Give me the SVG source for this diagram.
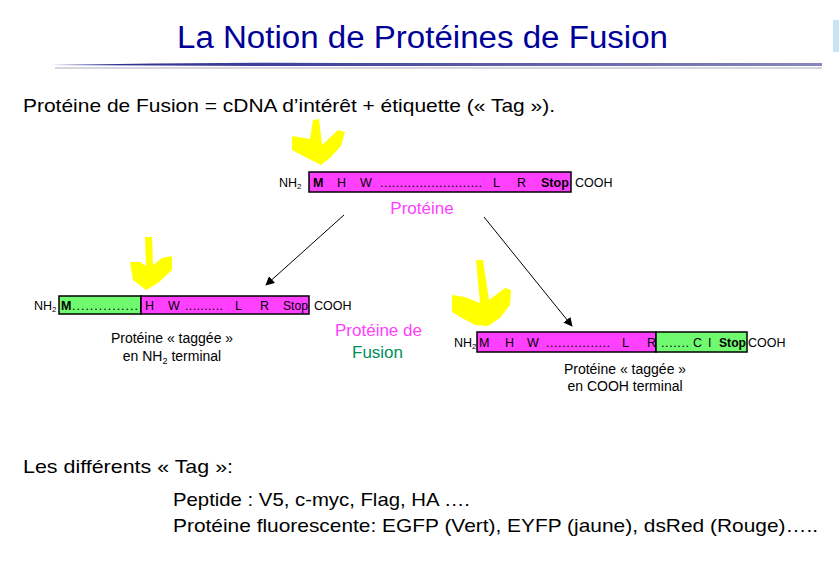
<svg xmlns="http://www.w3.org/2000/svg" width="839" height="563" viewBox="0 0 839 563">
<defs>
<style>
text{font-family:"Liberation Sans",Arial,sans-serif;fill:#000}
.b{font-size:12.5px}
.bb{font-size:12.5px;font-weight:bold}
.lbl{font-size:14px}
.big{font-size:19px}
.mag{fill:#ff40ff;font-size:17px}
.grn{fill:#00905a;font-size:17px}
.bar{stroke:#000;stroke-width:1.5}
.pm{fill:#ff40ff}
.pg{fill:#70fa70}
.ya{fill:#ffff00}
.con{stroke:#000;stroke-width:1;fill:none;marker-end:url(#ah)}
</style>
<marker id="ah" viewBox="0 0 10 10" refX="9" refY="5" markerWidth="9" markerHeight="9" markerUnits="userSpaceOnUse" orient="auto">
<path d="M0,0 L10,5 L0,10 z" fill="#000"/>
</marker>
<linearGradient id="lg1" x1="0" x2="1" y1="0" y2="0">
<stop offset="0" stop-color="#2a2a90"/>
<stop offset="0.4" stop-color="#4a4aa0"/>
<stop offset="1" stop-color="#8888bb"/>
</linearGradient>
</defs>
<rect width="839" height="563" fill="#fff"/>
<rect x="833" y="20" width="6" height="32" fill="#c8e2f6"/>

<g id="title">
<text x="177" y="48" style="font-size:31px;fill:#000099" textLength="491" lengthAdjust="spacingAndGlyphs">La Notion de Protéines de Fusion</text>
<path d="M50,65 Q200,62 345,63 L822,63 L822,66 L345,66 Q200,66 50,65 z" fill="url(#lg1)"/>
<line x1="55" y1="68" x2="822" y2="68" stroke="#c8c8d6" stroke-width="1.5"/>
</g>

<g id="intro">
<text x="23" y="112" class="big" textLength="532" lengthAdjust="spacingAndGlyphs">Protéine de Fusion = cDNA d’intérêt + étiquette (« Tag »).</text>
</g>

<g id="protein-top">
<path class="ya" d="M313,120 L319,119 L322,145 L338,130 L345,132 L341,146 L330,158 L321,165 L311,160 L292,150 L292,136 L310,139 z"/>
<text x="279" y="187" class="b">NH<tspan font-size="8" dy="2">2</tspan></text>
<rect x="309" y="172" width="262" height="20" class="bar pm"/>
<text x="313" y="187" class="bb">M</text>
<text x="337" y="187" class="b">H</text>
<text x="360" y="187" class="b">W</text>
<text x="380" y="187" class="b" textLength="102">..........................</text>
<text x="493" y="187" class="b">L</text>
<text x="517" y="187" class="b">R</text>
<text x="541" y="187" class="bb">Stop</text>
<text x="575" y="187" class="b">COOH</text>
<text x="422" y="214" text-anchor="middle" class="mag">Protéine</text>
</g>

<g id="protein-nh2">
<path class="ya" d="M145,237 L152,237 L153,265 L162,258 L172,256 L172,270 L158,283 L146,290 L133,280 L130,262 L140,262 L146,266 z"/>
<text x="34" y="310" class="b">NH<tspan font-size="8" dy="2">2</tspan></text>
<rect x="59" y="296" width="82" height="18" class="bar pg"/>
<rect x="141" y="296" width="168" height="18" class="bar pm"/>
<text x="61" y="310" class="bb">M</text>
<text x="72" y="310" class="b" textLength="66">...............</text>
<text x="145" y="310" class="b">H</text>
<text x="168" y="310" class="b">W</text>
<text x="185" y="310" class="b" textLength="38">..........</text>
<text x="235" y="310" class="b">L</text>
<text x="260" y="310" class="b">R</text>
<text x="283" y="310" class="b" textLength="25" lengthAdjust="spacingAndGlyphs">Stop</text>
<text x="314" y="310" class="b">COOH</text>
<text x="172" y="343" text-anchor="middle" class="lbl">Protéine « taggée »</text>
<text x="172" y="361" text-anchor="middle" class="lbl">en NH<tspan font-size="9" dy="3">2</tspan><tspan dy="-3"> terminal</tspan></text>
</g>

<g id="fusion-label">
<text x="335" y="336" class="mag">Protéine de</text>
<text x="352" y="358" class="grn">Fusion</text>
</g>

<g id="protein-cooh">
<path class="ya" d="M476,260 L483,260 L489,300 L505,288 L511,290 L510,305 L500,318 L488,326 L475,325 L462,318 L452,312 L452,295 L465,297 L480,303 z"/>
<text x="454" y="347" class="b">NH<tspan font-size="8" dy="2">2</tspan></text>
<rect x="477" y="332" width="179" height="20" class="bar pm"/>
<rect x="656" y="332" width="91" height="20" class="bar pg"/>
<text x="479" y="347" class="b">M</text>
<text x="505" y="347" class="b">H</text>
<text x="527" y="347" class="b">W</text>
<text x="546" y="347" class="b" textLength="64">................</text>
<text x="622" y="347" class="b">L</text>
<text x="647" y="347" class="b">R</text>
<text x="661" y="347" class="b" textLength="28">.......</text>
<text x="693" y="347" class="b">C</text>
<text x="708" y="347" class="b">I</text>
<text x="719" y="347" class="bb" textLength="27" lengthAdjust="spacingAndGlyphs">Stop</text>
<text x="748" y="347" class="b">COOH</text>
<text x="625" y="374" text-anchor="middle" class="lbl">Protéine « taggée »</text>
<text x="625" y="391" text-anchor="middle" class="lbl">en COOH terminal</text>
</g>

<g id="connectors">
<line x1="344" y1="215" x2="266" y2="285" class="con"/>
<line x1="484" y1="217" x2="572" y2="326" class="con"/>
</g>

<g id="tags">
<text x="23" y="473" class="big" textLength="210" lengthAdjust="spacingAndGlyphs">Les différents « Tag »:</text>
<text x="173" y="506" class="big" textLength="297" lengthAdjust="spacingAndGlyphs">Peptide : V5, c-myc, Flag, HA ….</text>
<text x="173" y="532" class="big" textLength="645" lengthAdjust="spacingAndGlyphs">Protéine fluorescente: EGFP (Vert), EYFP (jaune), dsRed (Rouge)…..</text>
</g>
</svg>
